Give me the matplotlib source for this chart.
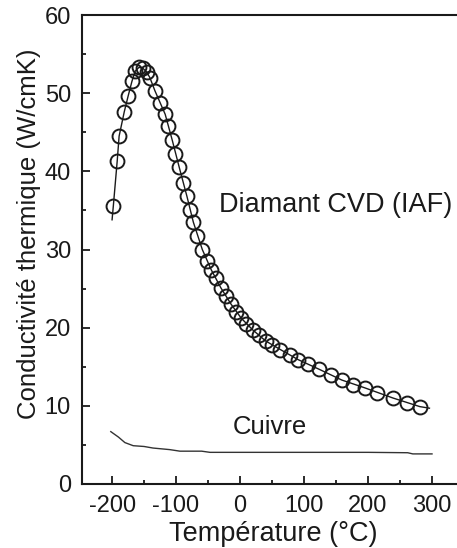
import numpy as np
import matplotlib
matplotlib.use("Agg")
import matplotlib.pyplot as plt
from matplotlib.ticker import MultipleLocator

plt.rcParams["axes.unicode_minus"] = False

diamant_t = [-198, -192, -189, -181, -175, -169, -164, -158, -152, -146, -141,
             -133, -125, -117, -112, -106, -101, -95, -89, -83, -78, -73, -67,
             -59, -52, -45, -38, -30, -22, -14, -6, 2, 10, 20, 30, 40, 50, 63,
             78, 91, 106, 123, 142, 159, 177, 195, 214, 239, 261, 281]
diamant_k = [35.6, 41.3, 44.5, 47.6, 49.6, 51.5, 52.8, 53.3, 53.2, 52.7, 52.0,
             50.3, 48.8, 47.3, 45.8, 44.0, 42.2, 40.5, 38.5, 36.8, 35.1, 33.5, 31.7,
             30.0, 28.5, 27.4, 26.3, 25.1, 24.0, 23.0, 22.0, 21.2, 20.5, 19.7, 19.0, 18.3, 17.8, 17.2,
             16.5, 15.9, 15.3, 14.7, 14.0, 13.3, 12.7, 12.3, 11.7, 11.0, 10.4, 9.9]

# fitted line drawn through the circles
fit_t = [-200, -198, -192, -189, -181, -175, -169, -164, -158, -152, -146, -141,
         -133, -125, -117, -106, -95, -83, -73, -59, -45, -30, -14, 2, 20, 40,
         63, 91, 123, 159, 195, 239, 281, 296]
fit_k = [33.8, 35.6, 41.3, 44.5, 47.6, 49.6, 51.5, 52.8, 53.3, 53.2, 52.7, 52.0,
         50.3, 48.8, 47.3, 44.0, 40.5, 36.8, 33.5, 30.0, 27.4, 25.1, 23.0, 21.2, 19.7, 18.3,
         17.2, 15.9, 14.7, 13.3, 12.3, 11.0, 9.9, 9.7]

# Cuivre
cuivre_t = [-202, -190, -180, -167, -150, -136, -110, -94, -60, -47, 0, 100, 200, 262, 270, 300]
cuivre_k = [6.7, 6.0, 5.3, 4.9, 4.8, 4.6, 4.4, 4.2, 4.2, 4.05, 4.05, 4.05, 4.05, 4.0, 3.85, 3.85]

fig = plt.figure(figsize=(4.57, 5.48), dpi=100)
ax = fig.add_axes([82 / 457, 64 / 548, 382 / 457, 469 / 548])

ink = "#1a1a1a"
ax.plot(fit_t, fit_k, color=ink, linewidth=1.0)
ax.plot(diamant_t, diamant_k, linestyle="none", marker="o", markersize=10,
        markerfacecolor="none", markeredgecolor=ink, markeredgewidth=1.4)
ax.plot(cuivre_t, cuivre_k, color="#333333", linewidth=1.0)

ax.set_xlim(-247, 350)
ax.set_ylim(0, 60)

font = ["Liberation Sans", "DejaVu Sans"]
ax.text(-33, 35.7, "Diamant CVD (IAF)", fontsize=19.5, family=font, color=ink, va="center")
ax.text(-12, 7.3, "Cuivre", fontsize=18.5, family=font, color=ink, va="center")

ax.set_xlabel("Température (°C)", fontsize=19.5, family=font, color=ink, labelpad=3)
ax.set_ylabel("Conductivité thermique (W/cmK)", fontsize=18.5, family=font, color=ink)
ax.yaxis.set_label_coords(-0.107, 0.533)

ax.xaxis.set_major_locator(MultipleLocator(100))
ax.xaxis.set_minor_locator(MultipleLocator(50))
ax.yaxis.set_major_locator(MultipleLocator(10))
ax.yaxis.set_minor_locator(MultipleLocator(5))
ax.tick_params(which="both", direction="in", colors=ink, width=1.3)
ax.tick_params(which="major", length=6, labelsize=17, pad=8)
ax.tick_params(which="minor", length=3)
for lab in ax.get_xticklabels() + ax.get_yticklabels():
    lab.set_family(font)

for side in ["left", "top", "bottom"]:
    ax.spines[side].set_linewidth(1.5)
    ax.spines[side].set_color(ink)
ax.spines["right"].set_visible(False)

fig.savefig("out.png", dpi=100)
